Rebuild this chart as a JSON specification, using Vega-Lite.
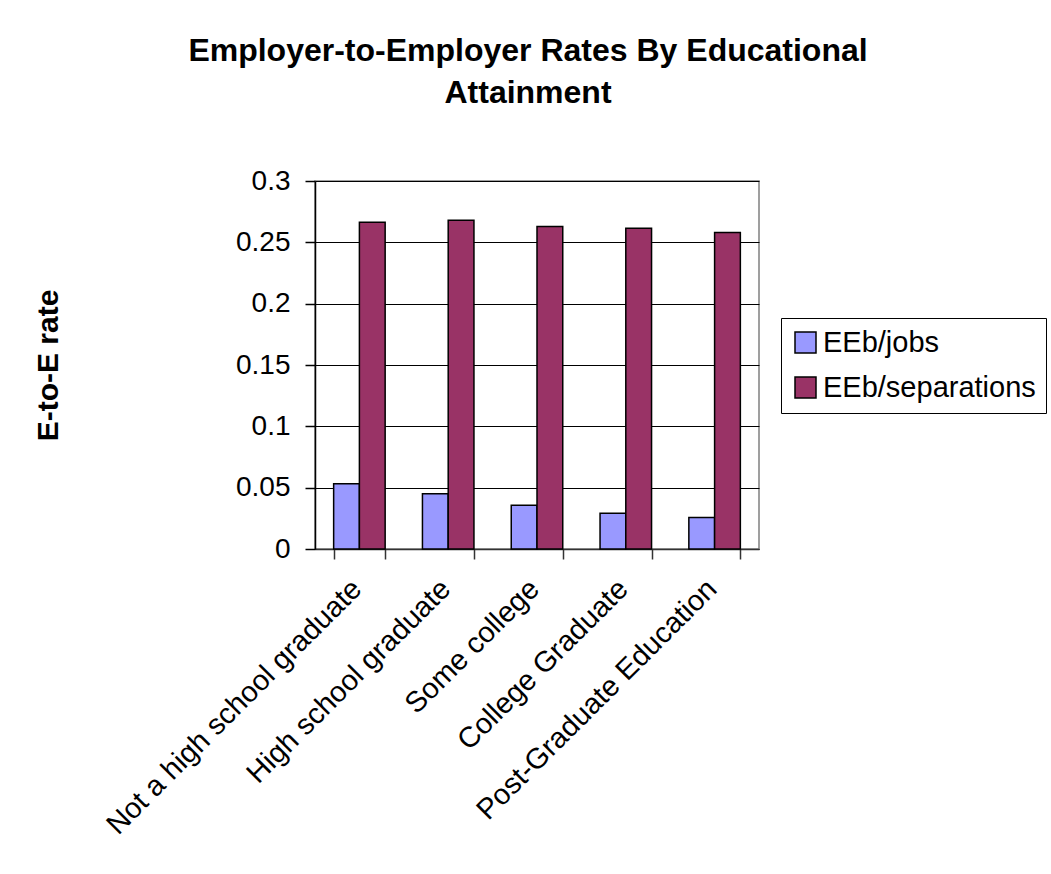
{
  "$schema": "https://vega.github.io/schema/vega-lite/v6.json",
  "width": 444,
  "height": 368,
  "autosize": {"type": "none"},
  "padding": {"left": 315, "top": 181, "right": 292, "bottom": 325},
  "background": "white",
  "title": {
    "text": ["Employer-to-Employer Rates By Educational", "Attainment"],
    "font": "Liberation Sans",
    "fontSize": 32,
    "fontWeight": "bold",
    "color": "#000000",
    "lineHeight": 42,
    "anchor": "middle",
    "frame": "group",
    "dx": -9,
    "offset": 57
  },
  "data": {
    "values": [
      {"edu": "Not a high school graduate", "series": "EEb/jobs", "rate": 0.0532},
      {"edu": "Not a high school graduate", "series": "EEb/separations", "rate": 0.2663},
      {"edu": "High school graduate", "series": "EEb/jobs", "rate": 0.0451},
      {"edu": "High school graduate", "series": "EEb/separations", "rate": 0.268},
      {"edu": "Some college", "series": "EEb/jobs", "rate": 0.0357},
      {"edu": "Some college", "series": "EEb/separations", "rate": 0.263},
      {"edu": "College Graduate", "series": "EEb/jobs", "rate": 0.0292},
      {"edu": "College Graduate", "series": "EEb/separations", "rate": 0.2614},
      {"edu": "Post-Graduate Education", "series": "EEb/jobs", "rate": 0.0256},
      {"edu": "Post-Graduate Education", "series": "EEb/separations", "rate": 0.258}
    ]
  },
  "mark": {"type": "bar", "stroke": "#000000", "strokeWidth": 1.5, "opacity": 1},
  "encoding": {
    "x": {
      "field": "edu",
      "type": "nominal",
      "sort": null,
      "scale": {"paddingInner": 0.42, "paddingOuter": 0.21},
      "axis": {
        "title": null,
        "labelAngle": -45,
        "labelAlign": "right",
        "labelBaseline": "middle",
        "labelFont": "Liberation Sans",
        "labelFontSize": 29,
        "labelColor": "#000000",
        "labelPadding": 25,
        "labelOffset": -3,
        "labelLimit": 500,
        "tickBand": "extent",
        "tickSize": 10,
        "tickColor": "#333333",
        "domainColor": "#333333",
        "labelOverlap": false
      }
    },
    "xOffset": {"field": "series", "type": "nominal", "sort": ["EEb/jobs", "EEb/separations"]},
    "y": {
      "field": "rate",
      "type": "quantitative",
      "scale": {"domain": [0, 0.3], "nice": false},
      "axis": {
        "title": "E-to-E rate",
        "titleFont": "Liberation Sans",
        "titleFontSize": 30,
        "titleFontWeight": "bold",
        "titleColor": "#000000",
        "titlePadding": 172,
        "values": [0, 0.05, 0.1, 0.15, 0.2, 0.25, 0.3],
        "format": "~g",
        "labelFont": "Liberation Sans",
        "labelFontSize": 28,
        "labelColor": "#000000",
        "labelPadding": 15,
        "tickSize": 10,
        "tickColor": "#000000",
        "domainColor": "#000000",
        "grid": true,
        "gridColor": "#000000",
        "gridWidth": 1
      }
    },
    "color": {
      "field": "series",
      "type": "nominal",
      "sort": ["EEb/jobs", "EEb/separations"],
      "scale": {"domain": ["EEb/jobs", "EEb/separations"], "range": ["#9999FF", "#993366"]},
      "legend": {
        "title": null,
        "orient": "none",
        "legendX": 466,
        "legendY": 137,
        "padding": 10,
        "strokeColor": "#000000",
        "fillColor": "#ffffff",
        "symbolType": "square",
        "symbolSize": 441,
        "symbolStrokeColor": "#000000",
        "symbolStrokeWidth": 1.5,
        "symbolOpacity": 1,
        "labelFont": "Liberation Sans",
        "labelFontSize": 29,
        "labelColor": "#000000",
        "labelOffset": 3,
        "rowPadding": 15,
        "labelLimit": 400
      }
    }
  },
  "config": {
    "view": {"stroke": "#808080", "strokeWidth": 1.5},
    "axis": {"domainWidth": 1.5, "tickWidth": 1.5}
  }
}
